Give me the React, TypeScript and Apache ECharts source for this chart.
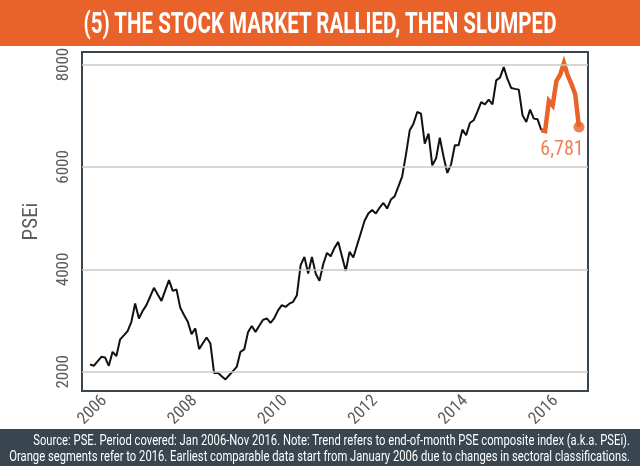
import React, { useEffect, useRef } from 'react';
import * as echarts from 'echarts';

// Month index 0 = Jan 2006
const startYear = 2006;

// End-of-month PSEi, Jan 2006 - Jan 2016 (black trend)
const pseiTrend: number[] = [
  2144, 2117, 2205, 2293, 2281, 2117, 2390, 2306, 2632, 2710, 2794, 2976,
  3335, 3042, 3190, 3301, 3470, 3639, 3510, 3385, 3590, 3789, 3580, 3608,
  3249, 3110, 2976, 2736, 2847, 2443, 2557, 2671, 2554, 1975, 1980, 1915,
  1851, 1933, 2014, 2095, 2390, 2437, 2770, 2895, 2780, 2900, 3015, 3042,
  2956, 3050, 3200, 3301, 3268, 3330, 3366, 3496, 4082, 4244, 3920, 4244,
  3920, 3776, 4100, 4322, 4257, 4420, 4537, 4250, 3970, 4342, 4232, 4470,
  4710, 4950, 5090, 5160, 5090, 5207, 5297, 5188, 5364, 5428, 5620, 5818,
  6242, 6716, 6846, 7073, 7040, 6456, 6651, 6033, 6163, 6573, 6200, 5883,
  6052, 6423, 6423, 6729, 6618, 6858, 6911, 7080, 7268, 7223, 7314, 7223,
  7691, 7744, 7951, 7714, 7541, 7525, 7510, 7008, 6878, 7119, 6944, 6930,
  6716,
];

// 2016 segment, Jan - Nov 2016 (orange)
const psei2016: number[] = [6716, 6700, 7290, 7200, 7680, 7800, 8030, 7790, 7620, 7420, 6781];

const yTicks: number[] = [2000, 4000, 6000, 8000];
const xTickYears: string[] = ['2006', '2008', '2010', '2012', '2014', '2016'];

const TITLE = '(5) THE STOCK MARKET RALLIED, THEN SLUMPED';
const NOTE1 =
  'Source: PSE. Period covered: Jan 2006-Nov 2016. Note: Trend refers to end-of-month PSE composite index (a.k.a. PSEi).';
const NOTE2 =
  'Orange segments refer to 2016. Earliest comparable data start from January 2006 due to changes in sectoral classifications.';

const ORANGE = '#e8622a';
const SLATE = '#39464f';
const GRAY_TEXT = '#5b5b5b';
const NARROW = "'Liberation Sans Narrow', 'Roboto Condensed', Roboto, sans-serif";

function measure(text: string, font: string): number {
  const c = document.createElement('canvas');
  const ctx = c.getContext('2d');
  if (!ctx) return text.length * 7;
  ctx.font = font;
  return ctx.measureText(text).width;
}

export default function App() {
  const ref = useRef<HTMLDivElement>(null);

  useEffect(() => {
    if (!ref.current) return;
    const chart = echarts.init(ref.current, null, { renderer: 'svg' });

    const labelShift = 3.5; // year labels sit a little after January
    const tickPositions = xTickYears.map((y) => (Number(y) - startYear) * 12 + labelShift);
    const posToYear: Record<string, string> = {};
    tickPositions.forEach((p, i) => (posToYear[p.toFixed(2)] = xTickYears[i]));

    const trendData = pseiTrend.map((v, i) => [i, v]);
    const orangeStart = pseiTrend.length - 1;
    const orangeData = psei2016.map((v, i) => [orangeStart + i, v]);
    const last = orangeData[orangeData.length - 1];

    const titleFont = 'bold 29px Roboto';
    const titleScale = 475 / measure(TITLE, titleFont);
    const noteFont = '15px Roboto';
    const noteScale = 621 / measure(NOTE2, noteFont);

    chart.setOption({
      animation: false,
      grid: {
        left: 82,
        right: 52,
        top: 52,
        bottom: 75,
        show: true,
        borderColor: SLATE,
        borderWidth: 2,
        backgroundColor: 'transparent',
      },
      xAxis: {
        type: 'value',
        min: -2.13,
        max: 132.4,
        splitLine: { show: false },
        axisLine: { show: false },
        axisTick: { show: false },
        axisLabel: {
          customValues: tickPositions,
          rotate: 45,
          margin: 6,
          color: GRAY_TEXT,
          fontSize: 17,
          fontFamily: NARROW,
          formatter: (v: number) => posToYear[Number(v).toFixed(2)] ?? '',
        },
      },
      yAxis: {
        type: 'value',
        min: 1625,
        max: 8245,
        name: 'PSEi',
        nameLocation: 'middle',
        nameGap: 42,
        nameTextStyle: { color: GRAY_TEXT, fontSize: 21, fontFamily: NARROW },
        splitLine: { show: false },
        axisLine: { show: false },
        axisTick: { show: false },
        axisLabel: {
          customValues: yTicks,
          rotate: 90,
          margin: 12,
          color: GRAY_TEXT,
          fontSize: 17,
          fontFamily: NARROW,
          formatter: (v: number) => String(v),
        },
      },
      series: [
        {
          type: 'line',
          data: [],
          z: 1,
          silent: true,
          markLine: {
            silent: true,
            symbol: ['none', 'none'],
            label: { show: false },
            lineStyle: { color: '#c8c8c8', width: 1.5, type: 'solid' },
            data: yTicks.map((v) => ({ yAxis: v })),
          },
        },
        {
          type: 'line',
          data: trendData,
          z: 3,
          showSymbol: false,
          lineStyle: { color: '#111111', width: 2 },
        },
        {
          type: 'line',
          data: orangeData,
          z: 4,
          showSymbol: false,
          lineStyle: { color: ORANGE, width: 4.5, join: 'miter' },
        },
        {
          type: 'scatter',
          data: [last],
          z: 5,
          symbol: 'circle',
          symbolSize: 11,
          itemStyle: { color: ORANGE },
          label: {
            show: true,
            position: 'bottom',
            distance: 4,
            offset: [-17, 2],
            color: ORANGE,
            fontSize: 20,
            fontFamily: NARROW,
            formatter: (p: any) => Number(p.value[1]).toLocaleString('en-US'),
          },
        },
      ],
      graphic: [
        { type: 'rect', shape: { x: 0, y: 0, width: 640, height: 46 }, style: { fill: ORANGE }, silent: true },
        {
          type: 'text',
          x: 320,
          y: 23,
          scaleX: titleScale,
          style: { text: TITLE, fill: '#ffffff', font: titleFont, align: 'center', verticalAlign: 'middle' },
          silent: true,
        },
        { type: 'rect', shape: { x: 0, y: 429, width: 640, height: 37 }, style: { fill: SLATE }, silent: true },
        {
          type: 'text',
          x: 630,
          y: 440,
          scaleX: noteScale,
          style: { text: NOTE1, fill: '#ffffff', font: noteFont, align: 'right', verticalAlign: 'middle' },
          silent: true,
        },
        {
          type: 'text',
          x: 630,
          y: 456,
          scaleX: noteScale,
          style: { text: NOTE2, fill: '#ffffff', font: noteFont, align: 'right', verticalAlign: 'middle' },
          silent: true,
        },
      ],
    });

    return () => chart.dispose();
  }, []);

  return <div ref={ref} style={{ position: 'fixed', left: 0, top: 0, width: 640, height: 466 }} />;
}
